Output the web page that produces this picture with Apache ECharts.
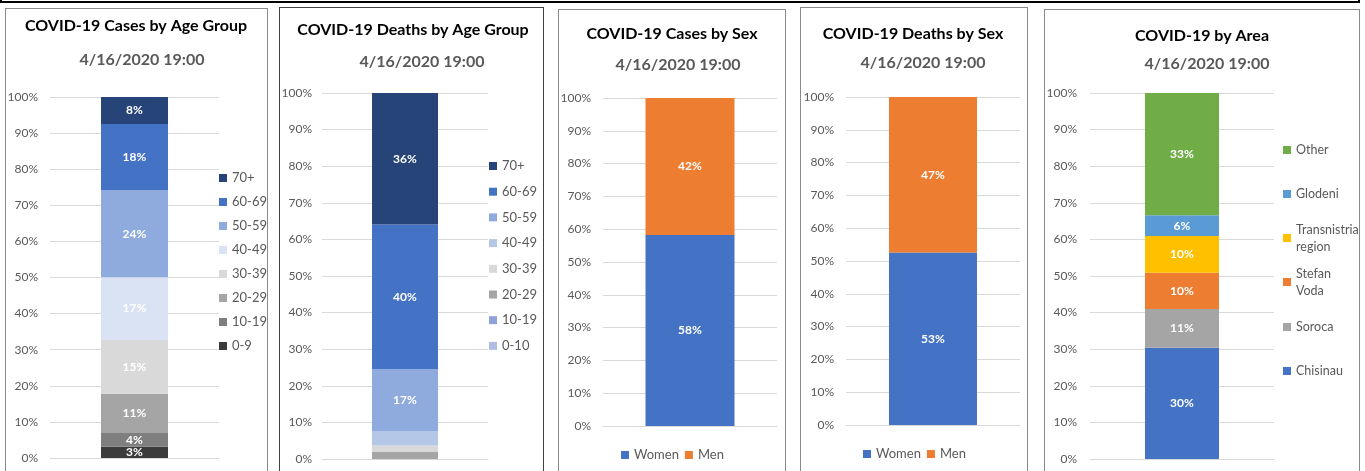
<!DOCTYPE html>
<html>
<head>
<meta charset="utf-8">
<script src="https://cdn.jsdelivr.net/npm/echarts@6/dist/echarts.min.js"></script>
<style>
  body { margin: 0; background: #fff; width: 1365px; height: 471px; overflow: hidden; position: relative; }
  .frame { position: absolute; border: 1px solid #8a8a8a; box-sizing: border-box; height: 480px; }
  .chart { position: absolute; left: 0; top: 0; width: 1365px; height: 471px; }
</style>
</head>
<body>
<div style="position:absolute;left:0;top:-10px;width:1360px;height:13px;border:2px solid #000;box-sizing:border-box"></div>
<div class="frame" style="left:5px;top:8px;width:263px"></div>
<div class="frame" style="left:279px;top:7px;width:265px;border-color:#404040"></div>
<div class="frame" style="left:558px;top:9px;width:228px"></div>
<div class="frame" style="left:800px;top:7px;width:228px"></div>
<div class="frame" style="left:1044px;top:9px;width:316px"></div>
<div class="chart" id="c1"></div>
<div class="chart" id="c2"></div>
<div class="chart" id="c3"></div>
<div class="chart" id="c4"></div>
<div class="chart" id="c5"></div>
<script>
const FONT = 'Lato, "Open Sans", sans-serif';
const subTitle = '4/16/2020 19:00';

// cases by age group
const ageGroups1 = ['0-9', '10-19', '20-29', '30-39', '40-49', '50-59', '60-69', '70+'];
const ageCases = [3.1, 3.8, 10.8, 15.0, 17.4, 24.1, 18.3, 7.5];
// deaths by age group
const ageGroups2 = ['0-10', '10-19', '20-29', '30-39', '40-49', '50-59', '60-69', '70+'];
const ageDeaths = [0, 0, 1.9, 1.8, 3.8, 17.0, 39.6, 35.9];
// by sex
const sexes = ['Women', 'Men'];
const sexCases = [58.2, 41.8];
const sexDeaths = [52.6, 47.4];
// by area
const areas = ['Chisinau', 'Soroca', 'Stefan Voda', 'Transnistria region', 'Glodeni', 'Other'];
const areaValues = [30.4, 10.6, 9.9, 10.0, 5.7, 33.4];

const colorsAge1 = ['#3b3b3b', '#7f7f7f', '#a5a5a5', '#d9d9d9', '#dae3f3', '#8faadc', '#4472c4', '#264478'];
const colorsAge2 = ['#b0bde3', '#8fa3da', '#a5a5a5', '#d9d9d9', '#b4c7e7', '#8faadc', '#4472c4', '#264478'];
const colorsSex = ['#4472c4', '#ed7d31'];
const colorsArea = ['#4472c4', '#a5a5a5', '#ed7d31', '#ffc000', '#5b9bd5', '#70ad47'];

function buildSeries(names, values, colors, barWidth, minLabel) {
  return names.map(function (n, i) {
    return {
      name: n, type: 'bar', stack: 'all', barWidth: barWidth,
      data: [values[i]],
      itemStyle: { color: colors[i] },
      label: {
        show: values[i] >= minLabel, color: '#fff', fontWeight: 'bold', fontSize: 12, fontFamily: FONT,
        formatter: function (p) { return Math.round(p.value) + '%'; }
      }
    };
  });
}

function titles(title, tx, ty, sx, sy) {
  return [
    { type: 'text', style: { text: title, x: tx, y: ty, align: 'center', verticalAlign: 'middle', font: 'bold 16px ' + FONT, fill: '#000' } },
    { type: 'text', style: { text: subTitle, x: sx, y: sy, align: 'center', verticalAlign: 'middle', font: 'bold 16px ' + FONT, fill: '#595959' } }
  ];
}

function baseOption(grid, margin) {
  return {
    animation: false,
    grid: grid,
    xAxis: {
      type: 'category', data: [''],
      axisLine: { lineStyle: { color: '#d9d9d9' } }, axisTick: { show: false }, axisLabel: { show: false }
    },
    yAxis: {
      type: 'value', min: 0, max: 100, interval: 10,
      axisLabel: { formatter: '{value}%', color: '#595959', fontSize: 12, fontFamily: FONT, margin: margin },
      splitLine: { lineStyle: { color: '#d9d9d9' } }
    }
  };
}

const legendText = { color: '#595959', fontSize: 13, fontFamily: FONT, lineHeight: 14 };

// 1. cases by age group
let o1 = baseOption({ left: 50, right: 1365 - 219, top: 97, bottom: 471 - 458 }, 12);
o1.series = buildSeries(ageGroups1, ageCases, colorsAge1, 67, 0);
o1.legend = { orient: 'vertical', left: 219, top: 171, padding: 0, itemWidth: 8, itemHeight: 8, itemGap: 10, icon: 'rect',
  data: ageGroups1.slice().reverse(), textStyle: legendText };
o1.graphic = titles('COVID-19 Cases by Age Group', 136, 26, 142, 60);
echarts.init(document.getElementById('c1')).setOption(o1);

// 2. deaths by age group
let o2 = baseOption({ left: 322, right: 1365 - 488, top: 93, bottom: 471 - 459 }, 10);
o2.series = buildSeries(ageGroups2, ageDeaths, colorsAge2, 66, 5);
o2.legend = { orient: 'vertical', left: 489, top: 159, padding: 0, itemWidth: 8, itemHeight: 8, itemGap: 11.7, icon: 'rect',
  data: ageGroups2.slice().reverse(), textStyle: legendText };
o2.graphic = titles('COVID-19 Deaths by Age Group', 413, 30, 422, 62);
echarts.init(document.getElementById('c2')).setOption(o2);

// 3. cases by sex
let o3 = baseOption({ left: 603, right: 1365 - 777, top: 98, bottom: 471 - 426 }, 12);
o3.series = buildSeries(sexes, sexCases, colorsSex, 89, 0);
o3.legend = { orient: 'horizontal', left: 621, top: 448, padding: 0, itemWidth: 8, itemHeight: 8, itemGap: 6, icon: 'rect',
  data: sexes, textStyle: legendText };
o3.graphic = titles('COVID-19 Cases by Sex', 672, 34, 678, 65);
echarts.init(document.getElementById('c3')).setOption(o3);

// 4. deaths by sex
let o4 = baseOption({ left: 846, right: 1365 - 1020, top: 97, bottom: 471 - 425 }, 12);
o4.series = buildSeries(sexes, sexDeaths, colorsSex, 88, 0);
o4.legend = { orient: 'horizontal', left: 863, top: 447, padding: 0, itemWidth: 8, itemHeight: 8, itemGap: 6, icon: 'rect',
  data: sexes, textStyle: legendText };
o4.graphic = titles('COVID-19 Deaths by Sex', 913, 34, 923, 63);
echarts.init(document.getElementById('c4')).setOption(o4);

// 5. by area
let o5 = baseOption({ left: 1090, right: 1365 - 1274, top: 93, bottom: 471 - 459 }, 13);
o5.series = buildSeries(areas, areaValues, colorsArea, 74, 0);
const areaLegendY = { 'Other': 150, 'Glodeni': 194, 'Transnistria region': 238, 'Stefan Voda': 282, 'Soroca': 327, 'Chisinau': 371 };
o5.legend = areas.map(function (a) {
  const twoLines = a.indexOf(' ') > 0;
  return {
    orient: 'vertical', left: 1283, top: areaLegendY[a] - (twoLines ? 25.5 : 8.5), padding: 0,
    itemWidth: 8, itemHeight: 8, icon: 'rect', data: [a],
    formatter: function (n) { return n.replace(' ', '\n'); },
    textStyle: { color: '#595959', fontSize: 12.5, fontFamily: FONT, lineHeight: 17, padding: twoLines ? [17, 0, 0, 0] : 0 }
  };
});
o5.graphic = titles('COVID-19 by Area', 1202, 36, 1207, 64);
echarts.init(document.getElementById('c5')).setOption(o5);
</script>
</body>
</html>
